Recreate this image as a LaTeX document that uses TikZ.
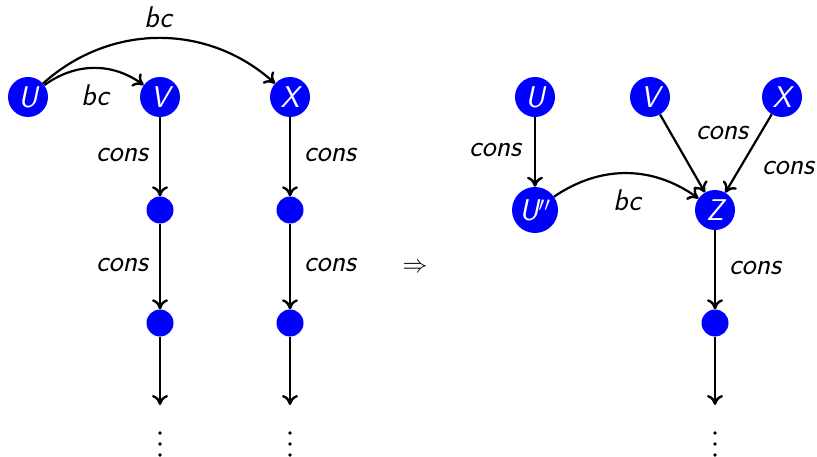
\documentclass[tikz,border=0pt]{standalone}
\usetikzlibrary{arrows.meta}
\begin{document}
\begin{tikzpicture}[x=1pt,y=-1pt,
  every node/.style={font=\fontsize{30}{34}\selectfont\sffamily\itshape},
  vert/.style={circle,fill=blue,text=white,minimum size=40pt,inner sep=1pt},
  blob/.style={circle,fill=blue,minimum size=27pt,inner sep=0pt},
  edge/.style={-{To[length=10pt,width=16pt,line width=2.4pt]},line width=2.2pt},
  lbl/.style={inner sep=1pt},
  dot/.style={circle,fill=black,minimum size=3.8pt,inner sep=0pt}]
\useasboundingbox (0,0) rectangle (817,457);
% left
\node[vert] (U) at (28,97) {U};
\node[vert] (V) at (160,97) {V};
\node[vert] (X) at (290,97) {X};
\node[blob] (V1) at (160,210) {};
\node[blob] (V2) at (160,323) {};
\node[blob] (X1) at (290,210) {};
\node[blob] (X2) at (290,323) {};
\coordinate (Ve) at (160,405);
\coordinate (Xe) at (290,405);
\draw[edge] (U) to[bend left=42] (X);
\draw[edge] (U) to[bend left=36] (V);
\draw[edge] (V) -- (V1);
\draw[edge] (V1) -- (V2);
\draw[edge] (V2) -- (Ve);
\draw[edge] (X) -- (X1);
\draw[edge] (X1) -- (X2);
\draw[edge] (X2) -- (Xe);
\node[lbl] at (158,17) {bc};
\node[lbl] at (95,95) {bc};
\node[lbl] at (122,155) {cons};
\node[lbl] at (122,265) {cons};
\node[lbl] at (330,155) {cons};
\node[lbl] at (330,265) {cons};
\foreach \x in {160,290}{
  \node[dot] at (\x,433) {};
  \node[dot] at (\x,444) {};
  \node[dot] at (\x,455) {};
}
% arrow
\node at (415,268) {\normalfont\fontsize{32}{36}\selectfont$\Rightarrow$};
% right
\node[vert] (RU) at (535,97) {U};
\node[vert] (RV) at (650,97) {V};
\node[vert] (RX) at (782,97) {X};
\node[vert,minimum size=46pt] (RU2) at (535,210) {U$''$};
\node[vert] (Z) at (715,210) {Z};
\node[blob] (Z1) at (715,323) {};
\coordinate (Ze) at (715,405);
\draw[edge] (RU) -- (RU2);
\draw[edge] (RV) -- (Z);
\draw[edge] (RX) -- (Z);
\draw[edge] (RU2) to[bend left=35] (Z);
\draw[edge] (Z) -- (Z1);
\draw[edge] (Z1) -- (Ze);
\node[lbl] at (495,150) {cons};
\node[lbl] at (722,133) {cons};
\node[lbl] at (788,168) {cons};
\node[lbl] at (627,200) {bc};
\node[lbl] at (755,268) {cons};
\node[dot] at (715,433) {};
\node[dot] at (715,444) {};
\node[dot] at (715,455) {};
\end{tikzpicture}
\end{document}
